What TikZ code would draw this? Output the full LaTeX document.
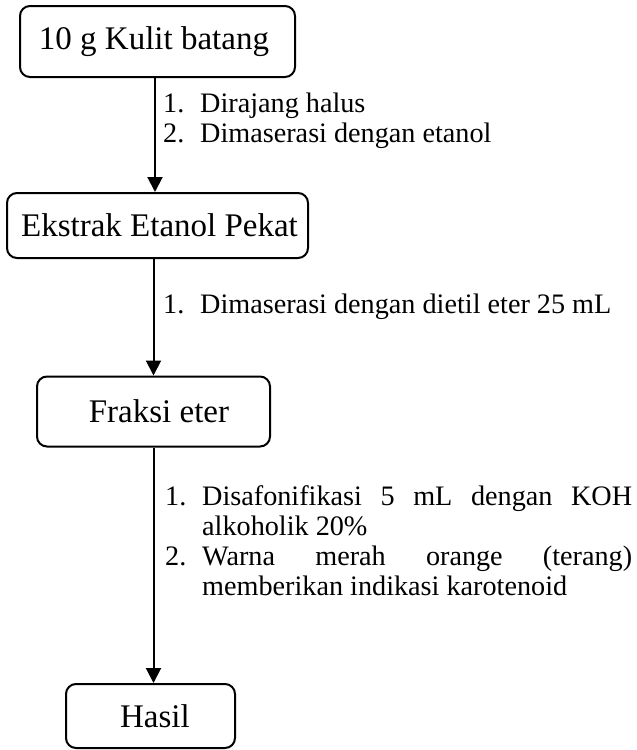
\documentclass[tikz,border=0pt]{standalone}
\usepackage{fontspec}
\setmainfont{Liberation Serif}
\usetikzlibrary{arrows.meta}
\tikzset{
  boxnode/.style={draw, line width=2pt, rounded corners=10pt, inner sep=0pt,
    font=\fontsize{33}{36}\selectfont},
  lbl/.style={inner sep=0pt, anchor=base west, font=\fontsize{28.2}{30}\selectfont},
  flow/.style={line width=2pt, -{Triangle[width=15pt,length=15pt]}}
}
\begin{document}
\begin{tikzpicture}[x={(1pt,0)}, y={(0,-1pt)}]
\useasboundingbox (0,0) rectangle (637,750);
% boxes
\node[boxnode, minimum width=275pt, minimum height=71pt] (b1) at (157.5,41.5) {\kern-7pt 10 g Kulit batang};
\node[boxnode, minimum width=301pt, minimum height=65pt] (b2) at (157.5,225.5) {\kern4pt Ekstrak Etanol Pekat};
\node[boxnode, minimum width=233pt, minimum height=70pt] (b3) at (153.5,411.5) {\kern11pt Fraksi eter};
\node[boxnode, minimum width=169pt, minimum height=64pt] (b4) at (150.5,716) {\kern9pt Hasil};
% connectors
\draw[flow] ([xshift=-2.5pt]b1.south) -- ([xshift=-2.5pt]b1.south |- b2.north);
\draw[flow] (b3.north |- b2.south) -- (b3.north);
\draw[flow] (b3.south) -- (b3.south |- b4.north);
% label 1
\node[lbl] (l1n1) at (163,112) {1.};
\node[lbl] (l1t1) at (200,112) {Dirajang halus};
\node[lbl] (l1n2) at (163,142) {2.};
\node[lbl] (l1t2) at (200,142) {Dimaserasi dengan etanol};
% label 2
\node[lbl] (l2n1) at (163,313) {1.};
\node[lbl] (l2t1) at (200,313) {Dimaserasi dengan dietil eter 25 mL};
% label 3
\node[lbl] (l3n1) at (165,505) {1.};
\node[lbl] (l3t1) at (202,505) {\makebox[430pt][s]{Disafonifikasi 5 mL dengan KOH}};
\node[lbl] (l3t2) at (202,535) {alkoholik 20\%};
\node[lbl] (l3n2) at (165,565) {2.};
\node[lbl] (l3t3) at (202,565) {\makebox[430pt][s]{Warna merah orange (terang)}};
\node[lbl] (l3t4) at (202,595) {memberikan indikasi karotenoid};
\end{tikzpicture}
\end{document}
